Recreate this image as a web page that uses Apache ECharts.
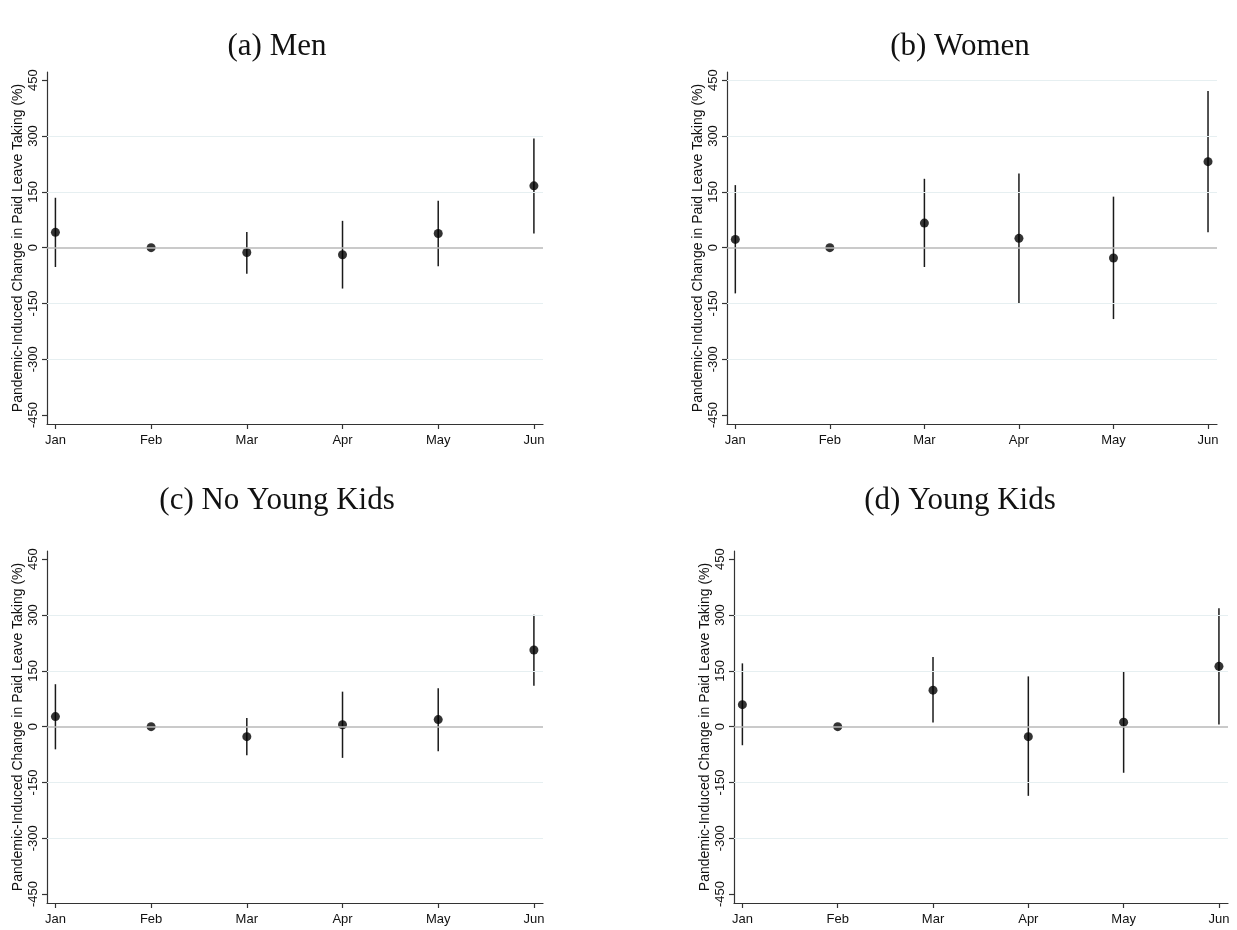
<!DOCTYPE html>
<html>
<head>
<meta charset="utf-8">
<script src="https://cdn.jsdelivr.net/npm/echarts@6/dist/echarts.min.js"></script>
<style>
html,body{margin:0;padding:0;background:#fff;}
#chart{width:1237px;height:930px;}
</style>
</head>
<body>
<div id="chart"></div>
<script>
const months = ['Jan', 'Feb', 'Mar', 'Apr', 'May', 'Jun'];
const yTicks = [-450, -300, -150, 0, 150, 300, 450];
const panelTitles = ['(a) Men', '(b) Women', '(c) No Young Kids', '(d) Young Kids'];
const yAxisTitle = 'Pandemic-Induced Change in Paid Leave Taking (%)';

const menEst = [41, 0, -13, -19, 38, 166];
const menLo  = [-52, null, -70, -110, -50, 38];
const menHi  = [134, null, 42, 72, 126, 293];

const womenEst = [22, 0, 66, 25, -28, 231];
const womenLo  = [-123, null, -52, -149, -192, 41];
const womenHi  = [168, null, 185, 199, 137, 421];

const noKidsEst = [27, 0, -27, 5, 19, 206];
const noKidsLo  = [-61, null, -77, -84, -66, 110];
const noKidsHi  = [114, null, 23, 94, 103, 301];

const kidsEst = [59, 0, 98, -27, 12, 162];
const kidsLo  = [-50, null, 11, -186, -124, 6];
const kidsHi  = [170, null, 187, 135, 149, 318];

const panels = [
  {est: menEst, lo: menLo, hi: menHi},
  {est: womenEst, lo: womenLo, hi: womenHi},
  {est: noKidsEst, lo: noKidsLo, hi: noKidsHi},
  {est: kidsEst, lo: kidsLo, hi: kidsHi}
];

const gridBoxes = [
  {left: 47, top: 72, width: 496, height: 352},
  {left: 727, top: 72, width: 490, height: 352},
  {left: 47, top: 551, width: 496, height: 352},
  {left: 734, top: 551, width: 494, height: 352}
];
const titlePos = [[277, 47], [960, 47], [277, 501], [960, 501]];
const gridLineVals = [[-300, -150, 150, 300], [-300, -150, 150, 300, 450], [-300, -150, 150, 300], [-300, -150, 150, 300]];

const sansFont = 'Liberation Sans, Arial, Helvetica, sans-serif';
const xTickVals = months.map((m, i) => i + 1);

const grid = [], xAxis = [], yAxis = [], series = [], graphic = [];
panels.forEach((p, k) => {
  grid.push(Object.assign({containLabel: false}, gridBoxes[k]));
  xAxis.push({
    type: 'value', gridIndex: k, min: 0.912, max: 6.095,
    axisLine: {show: true, onZero: false, lineStyle: {color: '#333', width: 1.2}},
    axisTick: {show: true, length: 5, customValues: xTickVals, lineStyle: {color: '#333', width: 1.2}},
    axisLabel: {customValues: xTickVals, formatter: v => months[Math.round(v) - 1] || '',
      color: '#111', fontFamily: sansFont, fontSize: 13, margin: 10},
    splitLine: {show: false}
  });
  yAxis.push({
    type: 'value', gridIndex: k, min: -474, max: 472,
    name: yAxisTitle, nameLocation: 'middle', nameGap: 22, nameRotate: 90,
    nameTextStyle: {color: '#111', fontFamily: sansFont, fontSize: 14},
    axisLine: {show: true, onZero: false, lineStyle: {color: '#333', width: 1.2}},
    axisTick: {show: true, length: 5, customValues: yTicks, lineStyle: {color: '#333', width: 1.2}},
    axisLabel: {customValues: yTicks, rotate: 90, color: '#111', fontFamily: sansFont, fontSize: 13, margin: 7},
    splitLine: {show: false}
  });
  // grid lines
  series.push({
    type: 'scatter', xAxisIndex: k, yAxisIndex: k, data: [], z: 1, silent: true,
    markLine: {
      silent: true, symbol: 'none', label: {show: false}, animation: false,
      data: gridLineVals[k].map(v => ({yAxis: v, lineStyle: {color: '#e6eff1', width: 1, type: 'solid'}}))
        .concat([{yAxis: 0, lineStyle: {color: '#b8b8b8', width: 1.6, type: 'solid'}}])
    }
  });
  // error bars
  const ebData = [];
  p.est.forEach((v, i) => { if (p.lo[i] !== null) ebData.push([i + 1, p.lo[i], p.hi[i]]); });
  series.push({
    type: 'custom', xAxisIndex: k, yAxisIndex: k, z: 3, data: ebData, animation: false,
    renderItem: function (params, api) {
      const a = api.coord([api.value(0), api.value(1)]);
      const b = api.coord([api.value(0), api.value(2)]);
      return {type: 'line', shape: {x1: a[0], y1: a[1], x2: b[0], y2: b[1]},
        style: {stroke: '#1a1a1a', lineWidth: 1.5}};
    }
  });
  // point estimates
  series.push({
    type: 'scatter', xAxisIndex: k, yAxisIndex: k, z: 4, symbol: 'circle', symbolSize: 9,
    itemStyle: {color: '#000'}, animation: false,
    data: p.est.map((v, i) => [i + 1, v])
  });
  graphic.push({
    type: 'text', x: titlePos[k][0], y: titlePos[k][1],
    style: {text: panelTitles[k], fill: '#111', font: '31px "Liberation Serif", "Times New Roman", serif',
      textAlign: 'center', textVerticalAlign: 'middle'}
  });
});

const chart = echarts.init(document.getElementById('chart'), null, {renderer: 'canvas'});
chart.setOption({
  backgroundColor: '#fff',
  animation: false,
  grid: grid, xAxis: xAxis, yAxis: yAxis, series: series, graphic: graphic
});
</script>
</body>
</html>
